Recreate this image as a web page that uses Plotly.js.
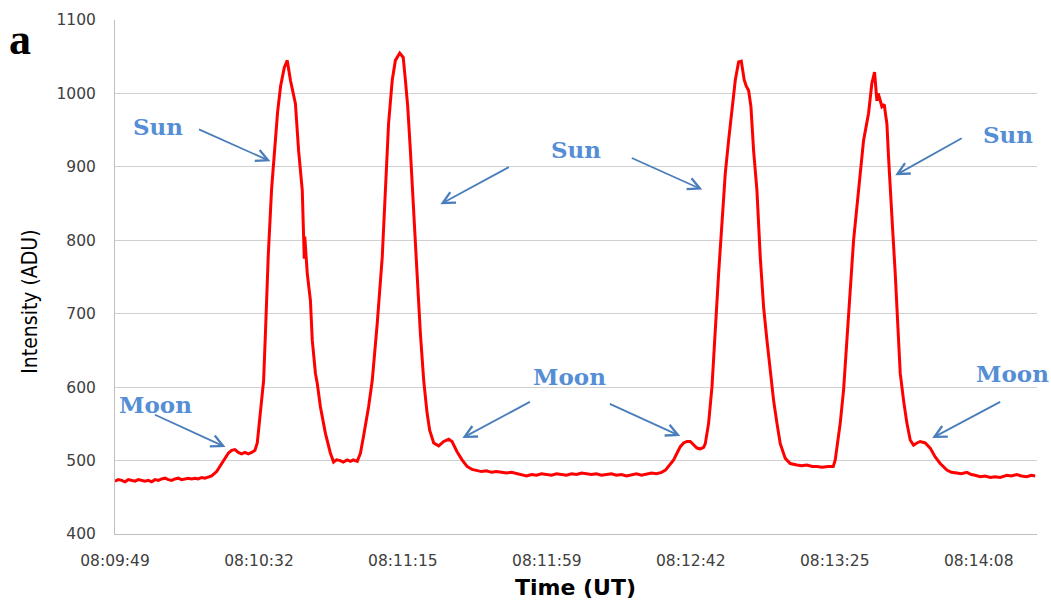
<!DOCTYPE html>
<html>
<head>
<meta charset="utf-8">
<script src="https://cdn.plot.ly/plotly-3.0.1.min.js"></script>
<style>html,body{margin:0;padding:0;background:#fff;}#chart{width:1051px;height:602px;}</style>
</head>
<body>
<div id="chart"></div>
<script>
// Time in seconds after 08:09:49 UT
const timeSec = [
  0,1,2,3,4,5,6,7,8,9,
  10,11,12,13,14,15,16,17,18,19,
  20,21,22,23,24,25,26,27,28,29,
  30.5,32,33,34,35,36,37,38,39,40,
  41,42,42.7,43.2,43.6,44.2,44.6,45.2,46,47,
  47.9,48.8,49.7,50.8,51.7,52.65,54.15,55.1,56.2,56.6,
  56.8,56.95,57.7,58.65,59.2,60.15,60.7,61.65,63.15,64.65,
  65.6,66.5,67.65,68.5,69.7,70.65,71.5,72.7,73.65,74.55,
  76.1,77.2,78.7,80.2,81.15,82.1,83.2,84.15,85.45,86.5,
  87.15,87.85,88.65,89.65,90.65,91.65,92.65,93.65,94.45,95.65,
  97.15,98.65,100.15,101.15,102.65,104.15,105.65,107.15,108.5,110,
  111.5,113,114.5,116,117.5,119,120.5,122,123.5,125,
  126.5,128,129.5,131,132.5,134,135.5,137,138.5,140,
  141.5,143,144.5,146,147.5,149,150.5,152,153.5,155,
  156.5,158,159.5,161,162.5,164,165.2,166.15,167.65,168.65,
  169.65,170.65,171.65,172.65,173.65,174.65,175.65,176.65,177.15,178.15,
  179.15,180.15,181.15,182.15,183.15,184.15,185.15,186.15,187.15,187.95,
  188.85,189.45,190.15,190.85,191.65,192.65,193.65,194.65,195.65,196.65,
  197.65,198.65,199.65,201.15,202.65,204.65,206,207.65,209.25,210.65,
  212.25,214,215.55,216.15,217.65,218.65,219.65,220.65,221.65,223.15,
  224.65,226.15,227.15,227.95,228.3,228.65,229.05,229.45,229.8,230.15,
  230.85,231.3,231.65,232.15,232.65,233.45,234.15,234.85,235.65,236.65,
  237.65,238.65,239.65,240.65,241.65,243.15,244.65,246.15,247.65,249.65,
  251,252.65,254,255.65,257,258.15,259.65,261.15,262.65,264.15,
  265.65,267.65,269,270.65,272,273.65,275,276.15
];
// Intensity (ADU)
const intensityADU = [
  472,474,473,471,474,473,472,474,473,472,
  473,471,474,473,475,476,474,473,475,476,
  474,475,476,475,476,475,477,476,477,479,
  485,495,503,510,514,515,511,509,511,509,
  511,514,524,545,565,590,609,680,780,870,
  930,975,1010,1035,1045,1018,986,922,868,809,
  775,805,755,718,664,619,605,573,537,510,
  498,501,500,498,501,499,501,499,510,532,
  573,609,687,777,868,959,1018,1045,1055,1049,
  1018,982,922,845,755,673,609,565,541,524,
  520,526,529,526,512,501,492,488,487,485,
  486,484,485,484,483,484,482,480,479,481,
  480,482,481,480,482,481,480,482,481,483,
  482,481,482,480,481,482,480,481,479,481,
  482,480,482,483,482,484,487,492,501,510,
  519,524,526,526,522,517,516,518,523,551,
  600,687,755,823,891,936,982,1018,1043,1044,
  1018,1010,1004,982,922,868,777,709,664,619,
  582,551,523,503,496,494,493,494,492,492,
  491,492,492,501,551,596,664,732,800,868,
  936,973,1014,1029,1005,990,1000,995,988,982,
  985,970,959,913,868,809,755,687,619,582,
  551,528,521,524,526,524,517,505,496,487,
  484,483,482,484,481,480,478,479,477,478,
  477,480,479,481,479,478,480,479
];
const tickSec = [0, 43.2, 86.4, 129.6, 172.8, 216, 259.2];
const tickLabels = ["08:09:49","08:10:32","08:11:15","08:11:59","08:12:42","08:13:25","08:14:08"];
const yTicks = [400,500,600,700,800,900,1000,1100];

// Labels: text, position (s, ADU)
const labelText = ["Sun","Sun","Sun","Moon","Moon","Moon"];
const labelX = [13.05, 138.45, 268.05, 12.15, 136.35, 269.25];
const labelY = [955, 924, 944, 577, 615, 618];
// Arrows: head (s, ADU) and tail (s, ADU)
const arrowHeadX = [46.65, 97.65, 176.25, 234.15, 33.15, 104.25, 169.65, 245.25];
const arrowHeadY = [907.5, 849, 869, 888.4, 518.4, 530.6, 533.3, 530.6];
const arrowTailX = [24.75, 118.65, 154.65, 254.55, 11.55, 124.95, 148.05, 266.1];
const arrowTailY = [952, 900.7, 913, 940, 563.3, 581, 578.2, 581];

const annotations = [];
labelText.forEach((t, i) => annotations.push({
  xref: 'x', yref: 'y', x: labelX[i], y: labelY[i], text: t, showarrow: false,
  xanchor: 'center', yanchor: 'middle',
  font: {family: 'DejaVu Serif', size: 23, color: '#558ED5', weight: 'bold'}
}));
arrowHeadX.forEach((hx, i) => annotations.push({
  xref: 'x', yref: 'y', x: hx, y: arrowHeadY[i], axref: 'x', ayref: 'y',
  ax: arrowTailX[i], ay: arrowTailY[i], text: '', showarrow: true,
  arrowhead: 5, arrowsize: 1.3, arrowwidth: 1.8, arrowcolor: '#4A7EBB', standoff: 0
}));
annotations.push({xref: 'paper', yref: 'paper', x: -0.103, y: 0.962, text: 'a', showarrow: false,
  xanchor: 'center', yanchor: 'middle', font: {family: 'Liberation Serif', size: 44, color: '#000', weight: 'bold'}});
annotations.push({xref: 'paper', yref: 'paper', x: 0.4995, y: -0.104, text: 'Time (UT)', showarrow: false,
  xanchor: 'center', yanchor: 'middle', font: {family: 'DejaVu Sans', size: 22, color: '#000', weight: 'bold'}});
annotations.push({xref: 'paper', yref: 'paper', x: -0.0916, y: 0.451, text: 'Intensity (ADU)', showarrow: false,
  textangle: -90, xanchor: 'center', yanchor: 'middle',
  font: {family: 'Liberation Sans Narrow, DejaVu Sans Condensed, sans-serif', size: 21, color: '#000'}});

const trace = {
  x: timeSec, y: intensityADU, type: 'scatter', mode: 'lines',
  line: {color: '#FF0000', width: 3}, hoverinfo: 'skip'
};

const layout = {
  width: 1051, height: 602,
  margin: {l: 115, r: 14, t: 20, b: 68},
  paper_bgcolor: '#fff', plot_bgcolor: '#fff',
  showlegend: false,
  xaxis: {
    range: [0, 276.7], tickmode: 'array', tickvals: tickSec, ticktext: tickLabels,
    showgrid: false, zeroline: false, showline: true, linecolor: '#bfbfbf', linewidth: 1,
    ticks: '', ticklabelstandoff: 12,
    tickfont: {family: 'DejaVu Sans', size: 15.5, color: '#404040'}
  },
  yaxis: {
    range: [400, 1100], tickmode: 'array', tickvals: yTicks,
    showgrid: true, gridcolor: '#d0d0d0', gridwidth: 1, zeroline: false,
    showline: true, linecolor: '#bfbfbf', linewidth: 1,
    ticks: '', ticklabelstandoff: 15,
    tickfont: {family: 'DejaVu Sans', size: 15.5, color: '#404040'}
  },
  annotations: annotations
};

Plotly.newPlot('chart', [trace], layout, {staticPlot: true, displayModeBar: false});
</script>
</body>
</html>
